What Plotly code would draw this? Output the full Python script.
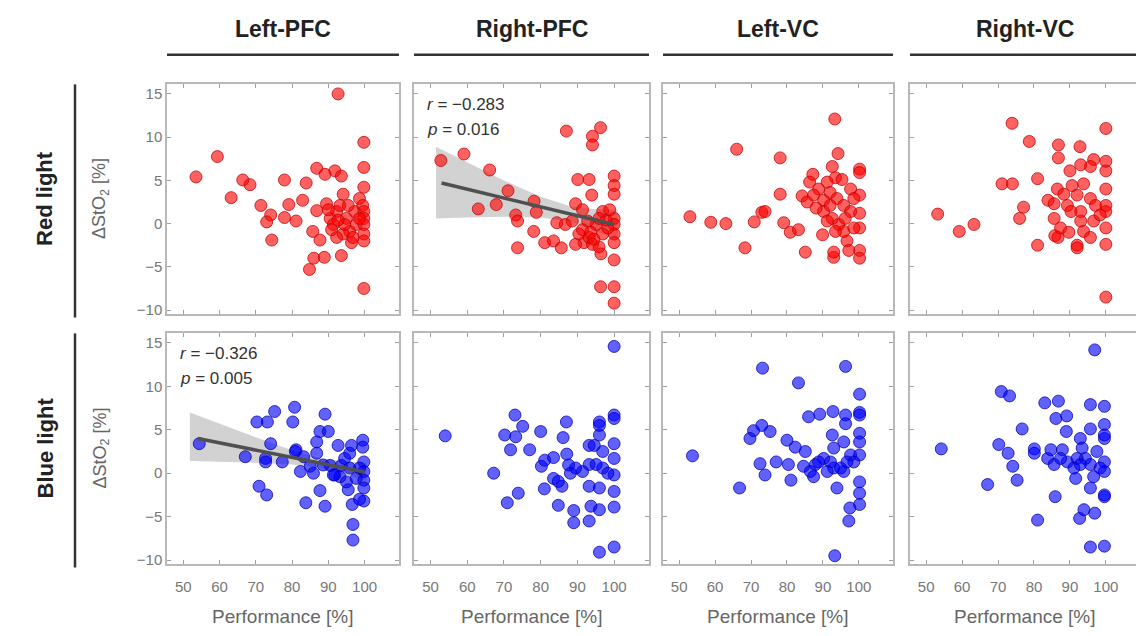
import plotly.graph_objects as go

# ---------------- data ----------------
regions = ["Left-PFC", "Right-PFC", "Left-VC", "Right-VC"]
conditions = ["Red light", "Blue light"]
x_ticks = [50, 60, 70, 80, 90, 100]
y_ticks = [-10, -5, 0, 5, 10, 15]

red_lpfc_x = [92.7, 99.8, 59.4, 53.5, 99.8, 66.4, 68.4, 77.9, 83.9, 86.8, 89.1, 91.8, 93.6, 63.2, 71.4, 74.1, 73.0, 74.4,
              77.9, 79.1, 81.1, 82.9, 85.7, 87.7, 86.8, 89.5, 86.0, 88.9, 84.8, 93.6, 99.8, 99.8, 90.5, 91.4, 92.3, 93.2,
              94.1, 95.0, 95.9, 96.4, 97.3, 97.7, 98.6, 99.5, 99.8, 99.8, 99.8, 99.8, 99.8, 94.1, 92.3, 90.9, 95.5, 94.5,
              98.6, 90.0, 92.7, 96.8]
red_lpfc_y = [15.0, 9.4, 7.75, 5.4, 6.5, 5.05, 4.5, 5.05, 4.7, 6.4, 5.7, 6.1, 5.5, 3.0, 2.1, 1.0, 0.2, -1.9,
              0.7, 2.2, 0.3, 2.7, -0.9, -1.9, 1.5, 2.3, -4.0, -3.9, -5.3, -3.7, -7.5, 4.2, 0.6, -0.1, 1.4, 2.1,
              3.4, 0.6, -0.9, -2.2, 1.4, -0.1, 2.9, 2.1, 1.4, 0.6, -0.1, -1.2, -2.0, -1.2, -1.6, -0.7, 2.1, -0.1,
              0.6, 1.6, 0.4, -1.6]

red_rpfc_x = [52.8, 59.1, 66.1, 63.0, 67.9, 71.1, 73.2, 73.7, 73.7, 78.2, 78.8, 78.1, 81.1, 83.5, 85.6, 87.0, 94.1, 96.3,
              94.1, 90.1, 93.2, 93.9, 100, 100, 100, 89.5, 96.9, 100, 100, 100, 100, 100, 96.3, 100, 100, 84.4,
              86.7, 88.6, 90.4, 91.8, 93.2, 94.1, 95.9, 96.9, 98.3, 95.1, 92.8, 91.4, 89.5, 97.8, 95.9, 98.8, 93.6,
              94.5, 96.4, 91.4]
red_rpfc_y = [7.3, 8.05, 6.2, 1.7, 2.2, 3.8, 1.0, 0.3, -2.8, 2.6, 1.3, -0.9, -2.2, -2.0, -2.8, 10.7, 10.1, 11.1,
              9.1, 5.1, 5.1, 3.3, 5.5, 4.4, 3.4, 2.3, 1.4, 0.6, -0.1, -1.2, -2.2, -4.2, -7.3, -7.3, -9.2, 0.1,
              -0.1, 0.3, -1.2, -2.2, -1.6, -2.4, -2.7, -1.2, -0.5, -0.1, 0.3, -0.7, -2.4, 0.4, 0.6, 1.6, -1.0,
              -1.8, -3.5, 1.6]

red_lvc_x = [93.3, 66.0, 78.1, 94.2, 53.0, 58.8, 63.0, 68.3, 70.9, 73.0, 73.9, 78.1, 79.1, 80.9, 83.2, 84.2, 85.1, 87.2,
             86.3, 89.9, 93.0, 93.0, 100.2, 100.2, 100.2, 100.2, 100.2, 100.2, 100.2, 96.7, 97.2, 92.6, 93.5, 91.2,
             88.8, 85.6, 87.4, 90.2, 92.0, 93.9, 95.8, 97.7, 97.7, 90.2, 92.6, 94.4, 95.8, 88.1, 92.0, 96.2, 98.6,
             95.3, 98.6, 93.5, 91.2]
red_lvc_y = [12.1, 8.6, 7.6, 8.1, 0.8, 0.15, 0.0, -2.8, 0.2, 1.3, 1.4, 3.4, 0.1, -1.0, -0.7, 3.2, -3.3, 5.7,
             4.8, -1.3, -3.9, -3.3, 6.3, 5.9, 3.3, 1.2, -0.5, -3.1, -4.0, -2.0, -3.1, 6.6, 5.3, 4.8,
             4.0, 2.5, 3.3, 2.7, 3.6, 2.9, 2.1, 4.0, 1.4, 1.4, 0.6, -0.1, -0.9, 1.8, 2.1, 0.6, 2.9,
             5.1, -0.5, -0.9, 0.3]

red_rvc_x = [73.9, 100, 78.7, 86.8, 92.8, 86.8, 71.1, 74.0, 81.0, 83.9, 77.1, 76.0, 53.2, 59.2, 63.3, 81.0, 85.8, 86.7,
             92.0, 92.0, 100, 100, 100, 100, 100, 100, 100, 100, 96.6, 95.7, 93.0, 90.0, 86.5, 88.3, 90.6, 93.8,
             85.6, 89.3, 92.0, 95.7, 97.1, 93.0, 85.6, 87.4, 89.7, 93.8, 95.7, 96.6, 98.4, 93.0, 90.3]
red_rvc_y = [11.6, 11.0, 9.5, 9.1, 8.9, 7.6, 4.6, 4.6, 5.2, 2.7, 1.9, 0.6, 1.1, -0.9, -0.1, -2.5, -1.4, -1.6,
             -2.5, -2.8, -8.5, -2.4, -0.5, 1.4, 2.1, 4.0, 6.1, 7.2, 7.4, 6.6, 6.8, 6.1, 4.0, 3.4, 4.4, 4.6,
             2.3, 2.1, 3.3, 2.9, 2.1, 0.3, 0.6, -0.5, -1.0, -0.9, -1.6, 0.3, 1.0, 1.4, 1.4]

blue_lpfc_x = [54.4, 67.1, 70.3, 73.2, 75.2, 74.1, 72.7, 72.7, 70.9, 73.0, 77.3, 80.7, 80.2, 81.1, 82.3, 83.8, 83.2, 85.0,
               85.9, 86.8, 87.7, 89.1, 90.0, 87.7, 89.1, 86.8, 90.5, 91.8, 92.7, 93.2, 94.5, 95.5, 95.9, 96.4, 96.6,
               96.8, 96.8, 99.5, 99.5, 99.8, 99.8, 99.8, 99.8, 99.8, 98.6, 95.0, 93.6, 91.4, 88.6, 98.6, 97.7, 95.9,
               80.9]
blue_lpfc_y = [3.4, 1.9, 5.9, 5.9, 7.1, 3.4, 1.7, 1.3, -1.5, -2.5, 1.3, 7.6, 5.9, 2.7, 0.2, -3.4, 1.9, 0.8,
               0.0, 3.6, 4.8, 6.8, 4.8, -2.0, -3.8, 2.3, 0.9, -0.2, 3.2, -0.4, 1.7, -1.9, 2.3, 3.2, -3.6,
               -5.9, -7.7, 3.8, 3.0, 1.3, 0.2, -0.8, -1.7, -3.2, -3.0, -1.0, 0.9, -0.2, 0.95, 0.6, -0.6, 0.6,
               2.5]

blue_rpfc_x = [100, 54.0, 67.2, 73.0, 75.1, 70.2, 73.2, 71.8, 77.0, 80.0, 87.0, 86.1, 80.2, 81.1, 83.5, 87.1, 83.5, 85.8,
               81.0, 73.9, 70.9, 84.8, 89.0, 89.0, 93.2, 93.7, 96.0, 96.0, 100, 96.0, 96.0, 100, 100, 100, 100, 100,
               100, 100, 93.2, 94.6, 96.9, 93.2, 91.4, 89.5, 88.1, 93.2, 96.0, 96.9, 98.3, 95.1, 96.0, 84.8, 87.6]
blue_rpfc_y = [14.6, 4.3, 0.0, 6.7, 5.4, 4.4, 4.2, 2.7, 2.7, 4.8, 5.9, 4.1, 0.8, 1.5, 1.8, 2.2, -0.6, -1.5,
               -1.8, -2.3, -3.4, -3.7, -4.3, -5.7, -5.5, -3.8, -4.2, -9.1, -8.5, 5.9, 5.5, 6.7, 6.3, 3.4, 1.7, -0.2,
               -2.1, -3.9, 3.2, 3.2, 2.5, 1.0, 0.2, 0.6, 0.0, -1.5, -1.7, 0.6, 0.0, 1.0, 4.4, -0.95, 0.95]

blue_lvc_x = [73.2, 96.3, 83.2, 100.2, 100.2, 100.2, 96.3, 92.8, 89.1, 86.0, 96.3, 73.0, 75.3, 70.7, 69.7, 53.7, 80.0, 82.3,
              85.1, 77.0, 72.5, 73.9, 80.4, 81.1, 66.8, 84.6, 86.5, 87.9, 87.4, 90.2, 92.6, 93.0, 93.9, 95.8, 95.8,
              97.7, 100.2, 100.2, 100.2, 100.2, 100.2, 100.2, 97.5, 97.2, 93.3, 98.6, 94.9, 92.1, 91.2, 88.8, 93.0,
              96.7]
blue_lvc_y = [12.1, 12.3, 10.4, 9.1, 7.0, 6.7, 6.7, 7.1, 6.8, 6.5, 5.7, 5.5, 4.8, 4.9, 4.0, 2.0, 3.8, 3.0,
              2.5, 1.3, 1.1, -0.2, 1.0, -0.8, -1.7, 0.8, 0.2, 1.0, -0.4, 1.7, 4.4, 0.6, -1.7, 3.6, 0.2,
              2.1, 4.6, 3.6, 2.1, -1.0, -2.3, -3.6, -4.0, -5.5, -9.5, 1.3, 0.6, 1.3, 0.2, 1.3, 2.9,
              1.3]

blue_rvc_x = [96.9, 70.9, 73.2, 83.0, 86.8, 95.7, 99.6, 86.1, 89.1, 76.7, 89.0, 99.6, 95.7, 54.2, 70.2, 72.8, 74.1, 75.3,
              67.1, 80.1, 80.1, 83.8, 84.7, 87.9, 85.6, 89.3, 91.6, 92.9, 93.4, 94.3, 95.7, 96.6, 95.7, 85.9, 81.0,
              92.7, 93.9, 96.9, 95.7, 99.6, 99.6, 99.6, 99.6, 99.6, 99.6, 99.6, 92.0, 92.9, 97.5, 98.4, 91.1, 87.4]
blue_rvc_y = [14.2, 9.4, 8.9, 8.1, 8.3, 7.9, 7.7, 6.3, 6.6, 5.1, 4.8, 5.6, 5.1, 2.8, 3.3, 2.3, 0.8, -0.8,
              -1.3, 2.8, 2.3, 1.7, 2.7, 2.7, 1.0, 1.3, -0.6, 4.0, 2.9, 1.7, 1.0, -0.4, -1.7, -2.7, -5.4,
              -5.2, -4.2, -4.6, -8.5, -8.4, -2.7, -2.5, 0.2, 1.3, 4.0, 4.4, 1.7, 1.0, 2.5, 0.6, 0.6, 1.7]

# regression fits with confidence band (Red/Right-PFC and Blue/Left-PFC)
fit_red_rpfc_x = [53.0, 100.0]
fit_red_rpfc_y = [4.7, -0.1]
ci_red_rpfc_x = [51.5, 60, 70, 80, 88, 95, 101]
ci_red_rpfc_upper = [8.9, 7.1, 5.0, 3.1, 2.0, 1.65, 1.6]
ci_red_rpfc_lower = [0.6, 0.7, 0.8, 0.7, 0.25, -0.85, -1.8]
stat_red_rpfc = ["-0.283", "0.016"]

fit_blue_lpfc_x = [54.0, 100.0]
fit_blue_lpfc_y = [4.0, 0.15]
ci_blue_lpfc_x = [51.8, 60, 70, 80, 88, 95, 100.5]
ci_blue_lpfc_upper = [7.0, 5.7, 4.15, 2.65, 1.7, 1.35, 1.2]
ci_blue_lpfc_lower = [1.4, 1.35, 1.2, 1.0, 0.6, -0.2, -0.9]
stat_blue_lpfc = ["-0.326", "0.005"]

# ---------------- figure ----------------
OFF = 8                      # page body margin of the html page
W, H = 1144 - OFF, 636 - OFF
col_px = [(167, 399), (414, 649), (663, 893), (910, 1140)]
row_px = [(85, 316), (336, 568)]

data_grid = [
    [(red_lpfc_x, red_lpfc_y), (red_rpfc_x, red_rpfc_y), (red_lvc_x, red_lvc_y), (red_rvc_x, red_rvc_y)],
    [(blue_lpfc_x, blue_lpfc_y), (blue_rpfc_x, blue_rpfc_y), (blue_lvc_x, blue_lvc_y), (blue_rvc_x, blue_rvc_y)],
]
fills = ["rgba(255,0,0,0.62)", "rgba(0,0,255,0.62)"]
edges = ["rgba(190,0,0,0.75)", "rgba(0,0,170,0.75)"]

FONT = "Arial, Liberation Sans, sans-serif"
fig = go.Figure()
layout = dict(width=W, height=H, margin=dict(l=0, r=0, t=0, b=0), autosize=False,
              paper_bgcolor="white", plot_bgcolor="white", showlegend=False,
              font=dict(family=FONT, color="#666"))
annotations = []
shapes = []


def px_x(p):
    return (p - OFF) / W


def px_y(p):
    return 1 - (p - OFF) / H


fit_info = {(0, 1): (fit_red_rpfc_x, fit_red_rpfc_y, ci_red_rpfc_x, ci_red_rpfc_upper, ci_red_rpfc_lower, stat_red_rpfc),
            (1, 0): (fit_blue_lpfc_x, fit_blue_lpfc_y, ci_blue_lpfc_x, ci_blue_lpfc_upper, ci_blue_lpfc_lower, stat_blue_lpfc)}

for r in range(2):
    for c in range(4):
        k = r * 4 + c + 1
        xa = "x" if k == 1 else f"x{k}"
        ya = "y" if k == 1 else f"y{k}"
        xs, ys = data_grid[r][c]
        if (r, c) in fit_info:
            fx, fy, cx, cu, cl, st = fit_info[(r, c)]
            fig.add_trace(go.Scatter(x=cx + cx[::-1], y=cu + cl[::-1], fill="toself",
                                     fillcolor="rgba(180,180,180,0.6)", line=dict(width=0),
                                     mode="lines", hoverinfo="skip", xaxis=xa, yaxis=ya))
        fig.add_trace(go.Scatter(x=xs, y=ys, mode="markers", xaxis=xa, yaxis=ya,
                                 marker=dict(size=12, color=fills[r], line=dict(color=edges[r], width=1))))
        if (r, c) in fit_info:
            fig.add_trace(go.Scatter(x=fx, y=fy, mode="lines", line=dict(color="#505050", width=3.5),
                                     xaxis=xa, yaxis=ya))
            x0 = col_px[c][0] + 11
            y0 = row_px[r][0] + 20
            annotations.append(dict(text=f"<i>r</i> = {st[0].replace('-', '\u2212')}", x=px_x(x0), y=px_y(y0),
                                    xref="paper", yref="paper", xanchor="left", yanchor="middle",
                                    showarrow=False, font=dict(size=17, color="#333")))
            annotations.append(dict(text=f"<i>p</i> = {st[1]}", x=px_x(x0), y=px_y(y0 + 25),
                                    xref="paper", yref="paper", xanchor="left", yanchor="middle",
                                    showarrow=False, font=dict(size=17, color="#333")))

        common = dict(showline=True, linecolor="#b8b8b8", linewidth=1.5, mirror="ticks", ticks="inside",
                      ticklen=4, tickcolor="#a0a0a0", showgrid=False, zeroline=False,
                      tickfont=dict(size=15, color="#777"))
        layout["xaxis" if k == 1 else f"xaxis{k}"] = dict(
            domain=[px_x(col_px[c][0]), px_x(col_px[c][1])], range=[45.5, 109.5],
            tickvals=x_ticks, showticklabels=(r == 1), anchor=ya, ticklabelstandoff=9, **common)
        layout["yaxis" if k == 1 else f"yaxis{k}"] = dict(
            domain=[px_y(row_px[r][1]), px_y(row_px[r][0])], range=[-10.4, 16.1],
            tickvals=y_ticks, showticklabels=(c == 0), anchor=xa, **common)

# column titles and underline bars
for c, name in enumerate(regions):
    cx = (col_px[c][0] + col_px[c][1]) / 2
    annotations.append(dict(text=f"<b>{name}</b>", x=px_x(cx), y=px_y(29), xref="paper", yref="paper",
                            xanchor="center", yanchor="middle",
                            showarrow=False, font=dict(size=23, color="#222")))
    shapes.append(dict(type="line", xref="paper", yref="paper", x0=px_x(col_px[c][0]), x1=px_x(col_px[c][1]),
                       y0=px_y(55), y1=px_y(55), line=dict(color="#333", width=2.5)))
    annotations.append(dict(text="Performance [%]", x=px_x(cx), y=px_y(621), xref="paper", yref="paper",
                            xanchor="center", yanchor="middle",
                            showarrow=False, font=dict(size=19, color="#666")))

# row titles, side bars and y titles
for r, name in enumerate(conditions):
    cy = (row_px[r][0] + row_px[r][1]) / 2
    annotations.append(dict(text=f"<b>{name}</b>", x=px_x(45), y=px_y(cy), xref="paper", yref="paper",
                            xanchor="center", yanchor="middle",
                            showarrow=False, textangle=-90, font=dict(size=22, color="#222")))
    shapes.append(dict(type="line", xref="paper", yref="paper", x0=px_x(75), x1=px_x(75),
                       y0=px_y(row_px[r][0]), y1=px_y(row_px[r][1] + 4), line=dict(color="#333", width=2.5)))
    annotations.append(dict(text="\u0394StO<sub>2</sub> [%]", x=px_x(101), y=px_y(cy), xref="paper", yref="paper",
                            xanchor="center", yanchor="middle",
                            showarrow=False, textangle=-90, font=dict(size=18, color="#666")))

layout["annotations"] = annotations
layout["shapes"] = shapes
fig.update_layout(**layout)
fig.write_html("out.html")
